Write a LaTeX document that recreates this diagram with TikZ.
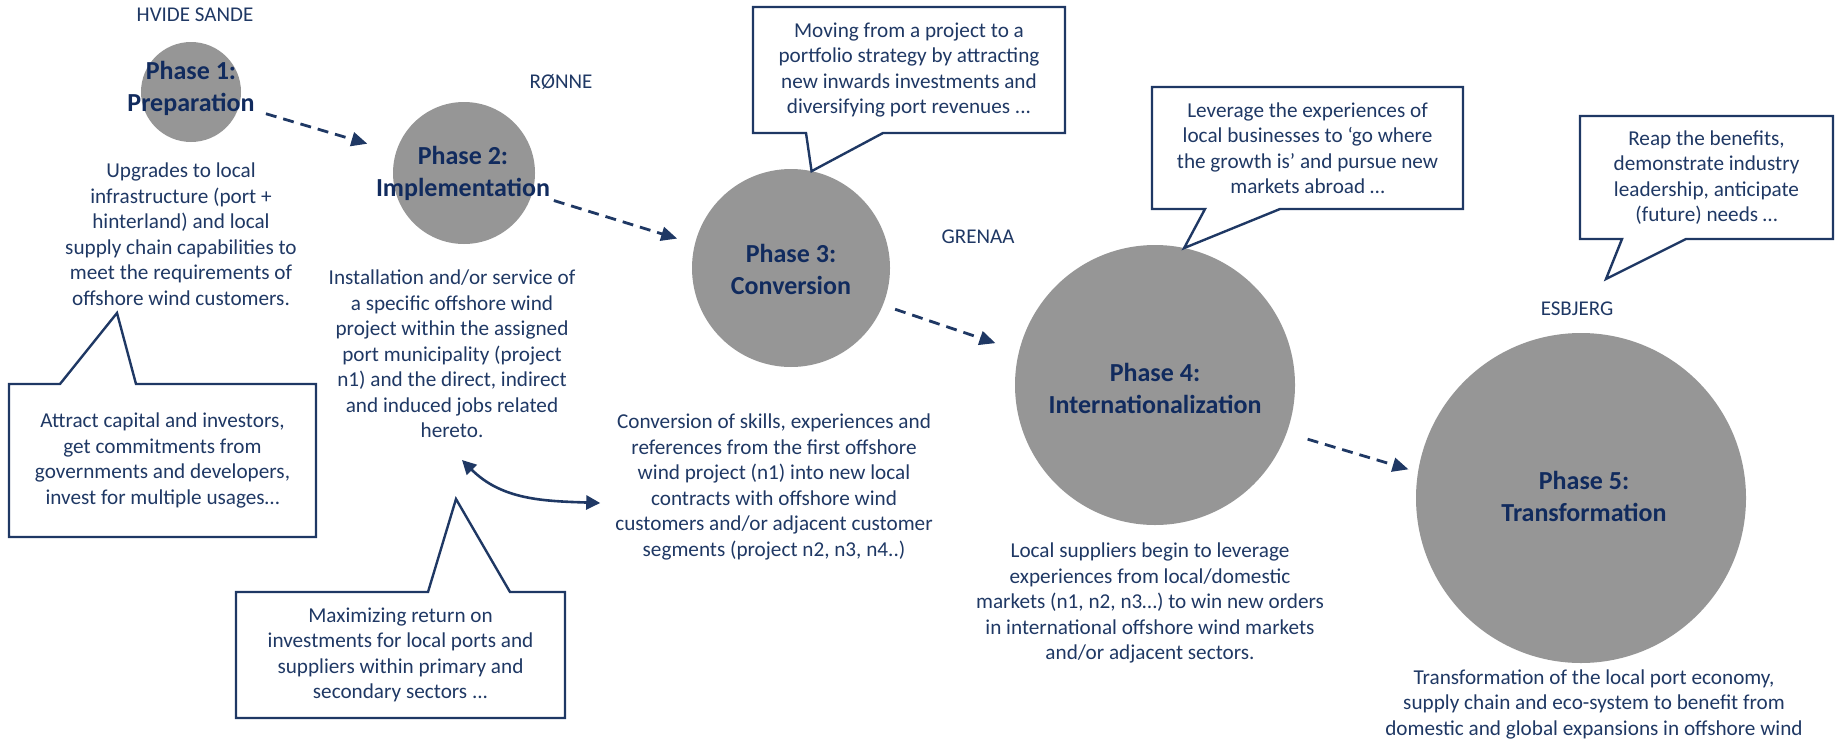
\documentclass[tikz,border=0pt]{standalone}
\usepackage{fontspec}
\setmainfont{Carlito}
\usetikzlibrary{arrows.meta}

\definecolor{navy}{HTML}{1F3864}
\definecolor{titlenavy}{HTML}{112B5E}
\definecolor{phasegray}{HTML}{969696}

\tikzset{
  phase/.style={circle,fill=phasegray,inner sep=0pt,outer sep=0pt},
  phasetitle/.style={text=titlenavy,font=\fontsize{13}{16}\selectfont\bfseries,align=center},
  body/.style={text=navy,font=\fontsize{10.6}{12.75}\selectfont,align=center},
  port/.style={text=navy,font=\fontsize{10.5}{12.6}\selectfont},
  note/.style={body,inner sep=0pt,outer sep=0pt},
  noteline/.style={draw=navy,line width=1.2pt,line join=miter},
  flow/.style={draw=navy,line width=1.4pt,dash pattern=on 5.5pt off 3.5pt,-{Triangle[length=8pt,width=7pt]}},
  twoway/.style={draw=navy,line width=1.3pt,{Triangle[length=7pt,width=7pt]}-{Triangle[length=7pt,width=7pt]}}
}

\begin{document}
\begin{tikzpicture}[x=0.5pt,y=-0.5pt]
  \useasboundingbox (0,0) rectangle (1840,739);

  % Phases
  \node[phase,minimum size=50pt] (c1) at (191,92) {};
  \node[phase,minimum size=71pt] (c2) at (464,173) {};
  \node[phase,minimum size=99pt] (c3) at (791,268) {};
  \node[phase,minimum size=140pt] (c4) at (1155,385) {};
  \node[phase,minimum size=165pt] (c5) at (1581,498) {};

  \node[phasetitle] (t1) at (191,88) {Phase 1:\\Preparation};
  \node[phasetitle] (t2) at (463,173) {Phase 2:\\Implementation};
  \node[phasetitle] (t3) at (791,269) {Phase 3:\\Conversion};
  \node[phasetitle] (t4) at (1155,388) {Phase 4:\\Internationalization};
  \node[phasetitle] (t5) at (1584,496) {Phase 5:\\Transformation};

  % Ports
  \node[port] (l1) at (195,15) {HVIDE SANDE};
  \node[port] (l2) at (561,82) {RØNNE};
  \node[port] (l3) at (978,237) {GRENAA};
  \node[port] (l5) at (1577,309) {ESBJERG};

  % Arrows between the phases
  \draw[flow,shorten <=14pt,shorten >=15pt] (c1.-16) -- (c2.163);
  \draw[flow,shorten <=11.5pt,shorten >=9.3pt] (c2.-17) -- (c3.166);
  \draw[flow,shorten <=6.5pt,shorten >=12.5pt] (c3.-22) -- (c4.166);
  \draw[flow,shorten <=11pt,shorten >=5pt] (c4.-20) -- (c5.171);

  % Descriptions
  \node[body] (txt1) at (181,234) {Upgrades to local\\infrastructure (port +\\hinterland) and local\\supply chain capabilities to\\meet the requirements of\\offshore wind customers.};
  \node[body] (txt2) at (452,354) {Installation and/or service of\\a specific offshore wind\\project within the assigned\\port municipality (project\\n1) and the direct, indirect\\and induced jobs related\\hereto.};
  \node[body] (txt3) at (774,487) {Conversion of skills, experiences and\\references from the first offshore\\wind project (n1) into new local\\contracts with offshore wind\\customers and/or adjacent customer\\segments (project n2, n3, n4..)};
  \node[body] (txt4) at (1150,603) {Local suppliers begin to leverage\\experiences from local/domestic\\markets (n1, n2, n3…) to win new orders\\in international offshore wind markets\\and/or adjacent sectors.};
  \node[body] (txt5) at (1594,704) {Transformation of the local port economy,\\supply chain and eco-system to benefit from\\domestic and global expansions in offshore wind};

  \draw[twoway] ([shift={(10,15)}]txt2.south) to[out=-45,in=178] ([shift={(-8,16)}]txt3.west);

  % Callouts
  \coordinate (tip1) at (117,313);
  \coordinate (tip2) at (456,499);
  \coordinate (tip5) at (1606,279);

  \node[note,minimum width=153.5pt,minimum height=76.5pt] (a1) at (162.5,460.5) {Attract capital and investors,\\get commitments from\\governments and developers,\\invest for multiple usages…};
  \draw[noteline] (a1.north west) -- ++(51,0) -- (tip1) -- ([shift={(127,0)}]a1.north west) -- (a1.north east) -- (a1.south east) -- (a1.south west) -- cycle;

  \node[note,minimum width=164.5pt,minimum height=63pt] (a2) at (400.5,655) {Maximizing return on\\investments for local ports and\\suppliers within primary and\\secondary sectors ...};
  \draw[noteline] (a2.north west) -- ++(192,0) -- (tip2) -- ([shift={(274,0)}]a2.north west) -- (a2.north east) -- (a2.south east) -- (a2.south west) -- cycle;

  \node[note,minimum width=156pt,minimum height=63pt] (a3) at (909,70) {Moving from a project to a\\portfolio strategy by attracting\\new inwards investments and\\diversifying port revenues ...};
  \draw[noteline] (a3.south west) -- ++(53,0) -- (c3.78) -- ([shift={(130,0)}]a3.south west) -- (a3.south east) -- (a3.north east) -- (a3.north west) -- cycle;

  \node[note,minimum width=155.5pt,minimum height=61pt] (a4) at (1307.5,148) {Leverage the experiences of\\local businesses to ‘go where\\the growth is’ and pursue new\\markets abroad …};
  \draw[noteline] (a4.south west) -- ++(53,0) -- (c4.78) -- ([shift={(128,0)}]a4.south west) -- (a4.south east) -- (a4.north east) -- (a4.north west) -- cycle;

  \node[note,minimum width=126.5pt,minimum height=61.5pt] (a5) at (1706.5,177.5) {Reap the benefits,\\demonstrate industry\\leadership, anticipate\\(future) needs …};
  \draw[noteline] (a5.south west) -- ++(42,0) -- (tip5) -- ([shift={(106,0)}]a5.south west) -- (a5.south east) -- (a5.north east) -- (a5.north west) -- cycle;
\end{tikzpicture}
\end{document}
